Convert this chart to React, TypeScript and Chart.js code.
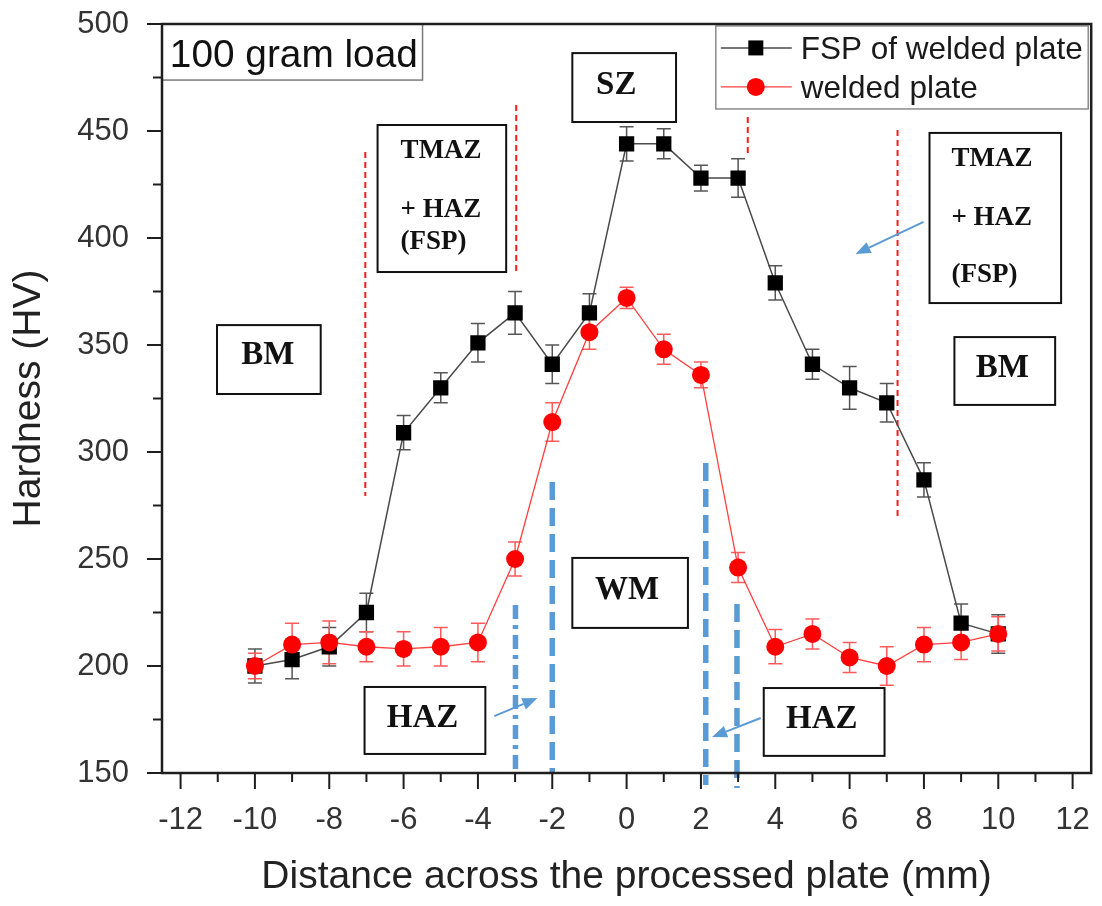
import React, { useEffect, useRef } from 'react';
import { Chart, registerables } from 'chart.js';

Chart.register(...registerables);

// Microhardness traverse across the processed plate (HV, 100 g load)
const distance = [-10, -9, -8, -7, -6, -5, -4, -3, -2, -1, 0, 1, 2, 3, 4, 5, 6, 7, 8, 9, 10];
const fspHardness = [200, 203, 209, 225, 309, 330, 351, 365, 341, 365, 444, 444, 428, 428, 379, 341, 330, 323, 287, 220, 215];
const fspError = [8, 9, 9, 9, 8, 7, 9, 10, 9, 9, 8, 7, 6, 9, 8, 7, 10, 9, 8, 9, 9];
const weldedHardness = [200, 210, 211, 209, 208, 209, 211, 250, 314, 356, 372, 348, 336, 246, 209, 215, 204, 200, 210, 211, 215];
const weldedError = [6, 10, 10, 7, 8, 9, 9, 8, 9, 8, 5, 7, 6, 7, 8, 7, 7, 9, 8, 8, 8];

const xTickValues = [-12, -10, -8, -6, -4, -2, 0, 2, 4, 6, 8, 10, 12];
const yTickValues = [150, 200, 250, 300, 350, 400, 450, 500];

const SANS = '"Liberation Sans", Arial, Helvetica, sans-serif';
const SERIF = '"Liberation Serif", "Times New Roman", Times, serif';
const BLUE = '#5b9bd5';

type Zone = {
  lines: string[];
  box: [number, number, number, number]; // xMin, xMax, yMin, yMax (data units)
  textX: number;
  textY: number[];
  align: CanvasTextAlign;
  size: number;
  family: string;
  bold: boolean;
  border: string;
  borderWidth: number;
};

// Zone labels placed in data coordinates
const zones: Zone[] = [
  { lines: ['100 gram load'], box: [-12.5, -5.49, 473.8, 500], textX: -12.29, textY: [486.2], align: 'left', size: 38.8, family: SANS, bold: false, border: '#7a7a7a', borderWidth: 1.5 },
  { lines: ['BM'], box: [-11.02, -8.23, 327.1, 359.3], textX: -9.65, textY: [346.3], align: 'center', size: 33, family: SERIF, bold: true, border: '#111', borderWidth: 2 },
  { lines: ['BM'], box: [8.82, 11.53, 322.0, 353.7], textX: 10.11, textY: [340.2], align: 'center', size: 33, family: SERIF, bold: true, border: '#111', borderWidth: 2 },
  { lines: ['TMAZ', '+ HAZ', '(FSP)'], box: [-6.7, -3.24, 384.1, 452.8], textX: -6.08, textY: [441.6, 414.0, 399.1], align: 'left', size: 27, family: SERIF, bold: true, border: '#111', borderWidth: 2 },
  { lines: ['TMAZ', '+ HAZ', '(FSP)'], box: [8.15, 11.69, 369.6, 449.1], textX: 8.74, textY: [437.9, 410.3, 383.6], align: 'left', size: 27, family: SERIF, bold: true, border: '#111', borderWidth: 2 },
  { lines: ['SZ'], box: [-1.46, 1.33, 454.2, 486.4], textX: -0.82, textY: [472.4], align: 'left', size: 33, family: SERIF, bold: true, border: '#111', borderWidth: 2 },
  { lines: ['WM'], box: [-1.46, 1.65, 217.8, 250.5], textX: 0.01, textY: [236.4], align: 'center', size: 33, family: SERIF, bold: true, border: '#111', borderWidth: 2 },
  { lines: ['HAZ'], box: [-7.05, -3.8, 158.9, 190.2], textX: -5.49, textY: [176.6], align: 'center', size: 33, family: SERIF, bold: true, border: '#111', borderWidth: 2 },
  { lines: ['HAZ'], box: [3.69, 6.94, 158.0, 189.7], textX: 5.25, textY: [176.2], align: 'center', size: 33, family: SERIF, bold: true, border: '#111', borderWidth: 2 },
];

// Zone boundaries of the processed plate (thin red dashes)
const boundaryLines = [
  { x: -7.03, y0: 279.4, y1: 440.2 },
  { x: -2.97, y0: 383.6, y1: 462.1 },
  { x: 3.26, y0: 438.8, y1: 456.5 },
  { x: 7.29, y0: 269.6, y1: 450.5 },
];

// Weld metal / HAZ limits (thick blue dashes)
const weldLines = [
  { x: -2.99, y0: 150, y1: 228.5, dash: [14, 6, 4, 6] },
  { x: -2.0, y0: 150, y1: 286.0, dash: [18, 8] },
  { x: 2.13, y0: 144.4, y1: 294.9, dash: [18, 8] },
  { x: 2.97, y0: 143.0, y1: 229.0, dash: [18, 8] },
];

const arrows = [
  { from: [-3.56, 176.6], to: [-2.4, 185.0] },
  { from: [3.61, 175.7], to: [2.3, 166.8] },
  { from: [7.99, 407.5], to: [6.16, 392.5] },
];

const legendBox: [number, number, number, number] = [2.4, 12.42, 460.3, 499.1];

const overlayPlugin = {
  id: 'hardnessOverlay',
  beforeDatasetsDraw(chart: any) {
    const { ctx } = chart;
    const xs = chart.scales.x;
    const ys = chart.scales.y;
    ctx.save();
    // red zone boundaries
    ctx.strokeStyle = '#ff1a1a';
    ctx.lineWidth = 2;
    ctx.setLineDash([6, 4]);
    for (const l of boundaryLines) {
      const px = xs.getPixelForValue(l.x);
      ctx.beginPath();
      ctx.moveTo(px, ys.getPixelForValue(l.y1));
      ctx.lineTo(px, ys.getPixelForValue(l.y0));
      ctx.stroke();
    }
    // blue weld limits
    ctx.strokeStyle = BLUE;
    ctx.lineWidth = 5.5;
    for (const l of weldLines) {
      ctx.setLineDash(l.dash);
      const px = xs.getPixelForValue(l.x);
      ctx.beginPath();
      ctx.moveTo(px, ys.getPixelForValue(l.y1));
      ctx.lineTo(px, ys.getPixelForValue(l.y0));
      ctx.stroke();
    }
    ctx.setLineDash([]);
    // error bars
    chart.data.datasets.forEach((ds: any) => {
      ctx.strokeStyle = ds.errorColor;
      ctx.lineWidth = 1.5;
      ds.data.forEach((pt: any, i: number) => {
        const e = ds.errors[i];
        const px = xs.getPixelForValue(pt.x);
        const top = ys.getPixelForValue(pt.y + e);
        const bot = ys.getPixelForValue(pt.y - e);
        ctx.beginPath();
        ctx.moveTo(px, top);
        ctx.lineTo(px, bot);
        ctx.moveTo(px - 7, top);
        ctx.lineTo(px + 7, top);
        ctx.moveTo(px - 7, bot);
        ctx.lineTo(px + 7, bot);
        ctx.stroke();
      });
    });
    ctx.restore();
  },
  afterDatasetsDraw(chart: any) {
    const { ctx } = chart;
    const xs = chart.scales.x;
    const ys = chart.scales.y;
    const X = (v: number) => xs.getPixelForValue(v);
    const Y = (v: number) => ys.getPixelForValue(v);
    ctx.save();

    // zone label boxes
    for (const z of zones) {
      const [x0, x1, y0, y1] = z.box;
      const l = X(x0), r = X(x1), t = Y(y1), b = Y(y0);
      ctx.fillStyle = '#fff';
      ctx.fillRect(l, t, r - l, b - t);
      ctx.strokeStyle = z.border;
      ctx.lineWidth = z.borderWidth;
      ctx.strokeRect(l, t, r - l, b - t);
      ctx.fillStyle = '#111';
      ctx.font = `${z.bold ? 'bold ' : ''}${z.size}px ${z.family}`;
      ctx.textAlign = z.align;
      ctx.textBaseline = 'alphabetic';
      z.lines.forEach((s, i) => {
        ctx.fillText(s, X(z.textX), Y(z.textY[i]) + z.size * 0.34);
      });
    }

    // arrows
    ctx.strokeStyle = BLUE;
    ctx.fillStyle = BLUE;
    ctx.lineWidth = 2;
    for (const a of arrows) {
      const fx = X(a.from[0]), fy = Y(a.from[1]);
      const tx = X(a.to[0]), ty = Y(a.to[1]);
      const ang = Math.atan2(ty - fy, tx - fx);
      const head = 15, half = 6;
      const bx = tx - head * Math.cos(ang), by = ty - head * Math.sin(ang);
      ctx.beginPath();
      ctx.moveTo(fx, fy);
      ctx.lineTo(bx, by);
      ctx.stroke();
      ctx.beginPath();
      ctx.moveTo(tx, ty);
      ctx.lineTo(bx + half * Math.sin(ang), by - half * Math.cos(ang));
      ctx.lineTo(bx - half * Math.sin(ang), by + half * Math.cos(ang));
      ctx.closePath();
      ctx.fill();
    }

    // legend
    {
      const [x0, x1, y0, y1] = legendBox;
      const l = X(x0), r = X(x1), t = Y(y1), b = Y(y0);
      ctx.fillStyle = '#fff';
      ctx.fillRect(l, t, r - l, b - t);
      ctx.strokeStyle = '#8a8a8a';
      ctx.lineWidth = 1.5;
      ctx.strokeRect(l, t, r - l, b - t);
      chart.data.datasets.forEach((ds: any, i: number) => {
        const rowY = t + 22 + i * 39;
        ctx.strokeStyle = ds.borderColor;
        ctx.lineWidth = ds.borderWidth;
        ctx.beginPath();
        ctx.moveTo(l + 5, rowY);
        ctx.lineTo(l + 76, rowY);
        ctx.stroke();
        ctx.fillStyle = ds.pointBackgroundColor;
        const cx = l + 40;
        if (ds.pointStyle === 'rect') {
          ctx.fillRect(cx - 7.5, rowY - 7.5, 15, 15);
        } else {
          ctx.beginPath();
          ctx.arc(cx, rowY, 9, 0, Math.PI * 2);
          ctx.fill();
        }
        ctx.fillStyle = '#1a1a1a';
        ctx.font = `31.5px ${SANS}`;
        ctx.textAlign = 'left';
        ctx.textBaseline = 'alphabetic';
        ctx.fillText(ds.label, l + 85, rowY + 11);
      });
    }
    ctx.restore();
  },
  afterDraw(chart: any) {
    const { ctx, chartArea } = chart;
    const xs = chart.scales.x;
    const ys = chart.scales.y;
    const { left, right, top, bottom } = chartArea;
    ctx.save();
    ctx.strokeStyle = '#1e1e1e';
    ctx.lineWidth = 2;
    // y ticks, major and minor
    for (let v = 150; v <= 500; v += 25) {
      const py = ys.getPixelForValue(v);
      const len = v % 50 === 0 ? 15 : 9;
      ctx.beginPath();
      ctx.moveTo(left - len, py);
      ctx.lineTo(left, py);
      ctx.stroke();
    }
    // x ticks, major and minor
    for (let v = -12; v <= 12; v += 1) {
      const px = xs.getPixelForValue(v);
      const len = v % 2 === 0 ? 16 : 9;
      ctx.beginPath();
      ctx.moveTo(px, bottom);
      ctx.lineTo(px, bottom + len);
      ctx.stroke();
    }
    ctx.lineWidth = 2.5;
    ctx.strokeRect(left, top, right - left, bottom - top);
    ctx.restore();
  },
};

// Scale paddings are cleared so the plot area follows layout.padding exactly
const clearScalePadding = (s: any) => {
  s.paddingTop = 0;
  s.paddingBottom = 0;
  s.paddingLeft = 0;
  s.paddingRight = 0;
};

export default function App() {
  const canvasRef = useRef<HTMLCanvasElement>(null);

  useEffect(() => {
    const canvas = canvasRef.current;
    if (!canvas) return;
    const chart = new Chart(canvas, {
      type: 'line',
      data: {
        datasets: [
          {
            label: 'FSP of welded plate',
            data: distance.map((x, i) => ({ x, y: fspHardness[i] })),
            errors: fspError,
            errorColor: '#555',
            borderColor: '#4a4a4a',
            borderWidth: 1.5,
            pointStyle: 'rect',
            pointRadius: 10.8,
            pointBackgroundColor: '#000',
            pointBorderColor: '#000',
            pointBorderWidth: 0,
            tension: 0,
            order: 2,
          } as any,
          {
            label: 'welded plate',
            data: distance.map((x, i) => ({ x, y: weldedHardness[i] })),
            errors: weldedError,
            errorColor: '#ff5a5a',
            borderColor: '#ff4040',
            borderWidth: 1.3,
            pointStyle: 'circle',
            pointRadius: 9,
            pointBackgroundColor: '#ff0000',
            pointBorderColor: '#ff0000',
            pointBorderWidth: 0,
            tension: 0,
            order: 1,
          } as any,
        ],
      },
      options: {
        animation: false,
        responsive: false,
        layout: { padding: { top: 24, right: 9, left: 0, bottom: 0 } },
        plugins: {
          legend: { display: false },
          tooltip: { enabled: false },
        },
        scales: {
          x: {
            type: 'linear',
            min: -12.5,
            max: 12.5,
            grid: { display: false },
            border: { display: false },
            afterBuildTicks: (s: any) => {
              s.ticks = xTickValues.map((value) => ({ value }));
            },
            afterFit: (s: any) => {
              s.height = 133;
              clearScalePadding(s);
            },
            ticks: {
              autoSkip: false,
              maxRotation: 0,
              padding: 21,
              color: '#333',
              font: { family: SANS, size: 31 },
              callback: (v: any) => String(v),
            },
            title: {
              display: true,
              text: 'Distance across the processed plate (mm)',
              color: '#222',
              font: { family: SANS, size: 39 },
              padding: { top: 0, bottom: 5 },
            },
          },
          y: {
            type: 'linear',
            min: 150,
            max: 500,
            grid: { display: false },
            border: { display: false },
            afterBuildTicks: (s: any) => {
              s.ticks = yTickValues.map((value) => ({ value }));
            },
            afterFit: (s: any) => {
              s.width = 162;
              clearScalePadding(s);
            },
            ticks: {
              padding: 25,
              color: '#333',
              font: { family: SANS, size: 31 },
              callback: (v: any) => String(v),
            },
            title: {
              display: true,
              text: 'Hardness (HV)',
              color: '#222',
              font: { family: SANS, size: 39 },
              padding: { top: 6, bottom: 0 },
            },
          },
        },
      },
      plugins: [overlayPlugin],
    });
    return () => chart.destroy();
  }, []);

  return (
    <div style={{ position: 'absolute', left: 0, top: 0, width: 1102, height: 906, background: '#fff' }}>
      <canvas ref={canvasRef} width={1102} height={906} style={{ display: 'block', width: 1102, height: 906 }} />
    </div>
  );
}
